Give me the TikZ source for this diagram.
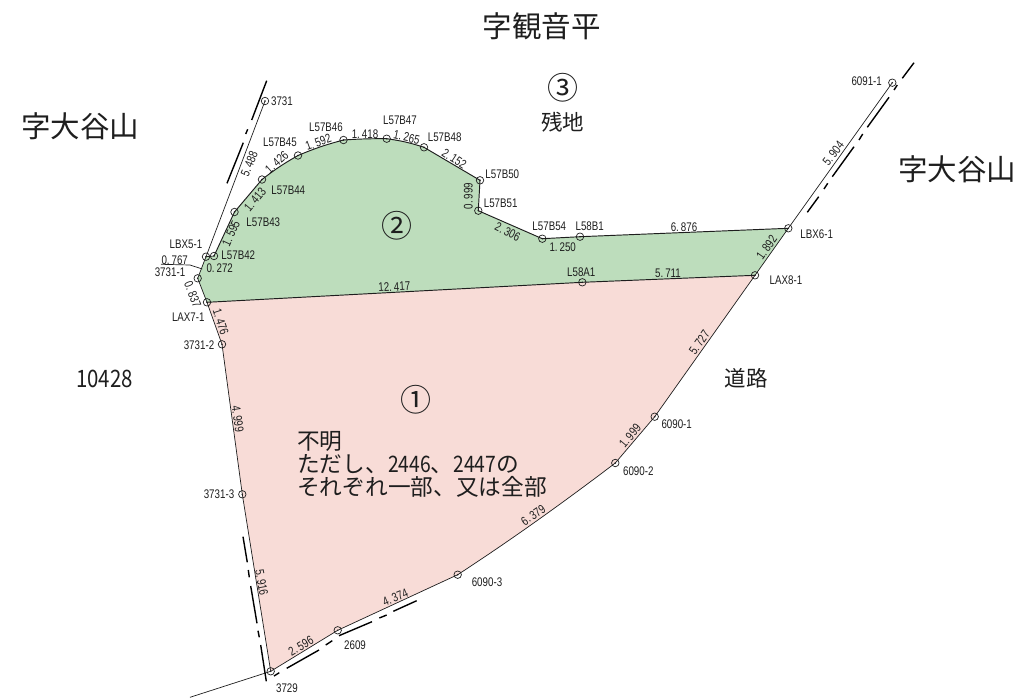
\documentclass[tikz,border=0pt]{standalone}
\usepackage{fontspec}
\setmainfont{Noto Sans CJK JP}
\newfontfamily\lblfont[FakeStretch=0.78]{Liberation Sans}
\newfontfamily\digfont[FakeStretch=0.85]{Noto Sans CJK JP}
\usetikzlibrary{backgrounds}
\definecolor{pinkfill}{HTML}{F8DCD7}
\definecolor{greenfill}{HTML}{BDDDBC}
\definecolor{inkc}{HTML}{1E1E1E}
\definecolor{lblc}{HTML}{1E1E1E}
\newcounter{lblctr}
\newcommand{\lbl}[4][0]{\stepcounter{lblctr}\node[smalllabel,rotate=#1] (lbl\thelblctr) at (#2,#3) {#4};}
\def\splitdot#1.#2\relax{#1.\kern2pt #2}
\newcommand{\dst}[4][0]{\stepcounter{lblctr}\node[smalllabel,rotate=#1] (lbl\thelblctr) at (#2,#3) {\splitdot#4\relax};}
\newcommand{\stake}[3]{\node[stake] (#1) at (#2,#3) {};}
\tikzset{
  stake/.style={circle,draw=inkc,line width=0.7pt,inner sep=0pt,minimum size=7.5pt,
    path picture={\fill[inkc] (path picture bounding box.center) circle (0.85pt);}},
  smalllabel/.style={font=\lblfont\fontsize{12.5}{13}\selectfont,text=lblc,inner sep=0pt},
  biglabel/.style={font=\fontsize{29.5}{31}\selectfont,text=inkc,inner sep=0pt},
  circlabel/.style={font=\fontsize{31}{33}\selectfont,text=inkc,inner sep=0pt},
  midlabel/.style={font=\fontsize{21.5}{24}\selectfont,text=inkc,inner sep=0pt},
  boundary/.style={draw=inkc,line width=0.7pt},
  strong/.style={draw=inkc,line width=0.95pt},
  boundmark/.style={draw=black,line width=1.4pt}
}
\begin{document}
\begin{tikzpicture}[x=1pt,y=-1pt]
\useasboundingbox (0,0) rectangle (1018,699);
% stakes
\stake{a3731}{265}{101}
\stake{b45}{298}{155.5}
\stake{b46}{343.5}{140}
\stake{b44}{262}{179.5}
\stake{b43}{234.5}{212}
\stake{lbx5}{206}{256.7}
\stake{b42}{214}{256}
\stake{a37311}{197.7}{278.3}
\stake{lax7}{207}{302.3}
\stake{a37312}{222}{344.3}
\stake{a37313}{242.3}{494.3}
\stake{a3729}{270.7}{671.3}
\stake{a2609}{337.7}{630.3}
\stake{c60903}{457.7}{574.7}
\stake{c60902}{615.3}{463}
\stake{c60901}{654.7}{416.7}
\stake{lax8}{755}{275.3}
\stake{lbx6}{788.3}{228.3}
\stake{c6091}{892.3}{82.7}
\stake{b58}{580}{236.7}
\stake{b54}{542.3}{238.7}
\stake{b51}{478.3}{210.7}
\stake{b50}{480}{180.3}
\stake{b48}{424}{147.3}
\stake{b47}{386.7}{138.7}
\stake{a58}{582.3}{282.3}
\coordinate (tailend) at (190,697.3);
\coordinate (leadA) at (161,264.3);
\coordinate (leadB) at (190,265);
\coordinate (leadC) at (202.3,269);
\coordinate (bowA) at (511,540);
\coordinate (bowB) at (564,502);
% fills
\begin{scope}[on background layer]
\fill[pinkfill] (lax7.center) -- (a58.center) -- (lax8.center) -- (c60901.center) -- (c60902.center) .. controls (bowB) and (bowA) .. (c60903.center) -- (a2609.center) -- (a3729.center) -- (a37313.center) -- (a37312.center) -- cycle;
\fill[greenfill] (a37311.center) -- (lbx5.center) -- (b42.center) -- (b43.center) -- (b44.center) to[bend left=4] (b45.center) to[bend left=4] (b46.center) to[bend left=2] (b47.center) to[bend left=5] (b48.center) -- (b50.center) -- (b51.center) -- (b54.center) -- (b58.center) -- (lbx6.center) -- (lax8.center) -- (a58.center) -- (lax7.center) -- cycle;
\end{scope}
% boundaries
\draw[boundary] (a3731.center) -- (lbx5.center) -- (a37311.center) -- (lax7.center) -- (a37312.center) -- (a37313.center) -- (a3729.center) -- (a2609.center) -- (c60903.center) .. controls (bowA) and (bowB) .. (c60902.center) -- (c60901.center) -- (lax8.center) -- (lbx6.center) -- (c6091.center);
\draw[boundary] (lbx5.center) -- (b42.center);
\draw[strong] (b42.center) -- (b43.center) -- (b44.center) to[bend left=4] (b45.center) to[bend left=4] (b46.center) to[bend left=2] (b47.center) to[bend left=5] (b48.center) -- (b50.center) -- (b51.center) -- (b54.center) -- (b58.center) -- (lbx6.center);
\draw[strong] (lax7.center) -- (a58.center) -- (lax8.center);
\draw[boundary] (tailend) -- (a3729.center);
\draw[boundary] (leadA) -- (leadB) -- (leadC);
% boundary marks
\draw[boundmark] (266.7,80.7) -- (251.7,120) (247.7,129.3) -- (245.7,134) (243.3,142.7) -- (227,183.3);
\draw[boundmark] (243,536.7) -- (247.3,562.3) (248.3,570) -- (249.3,577.3) (250.7,586) -- (257,623.3) (258,630.7) -- (259.3,637.3) (260.7,645) -- (266.3,681.3);
\draw[boundmark] (274,676) -- (279.3,672.7) (286.7,668.3) -- (319,650) (325.7,645) -- (332.3,640.7) (339,635.7) -- (372,621.7) (379.3,618) -- (386.7,615) (393.3,611.3) -- (416.7,600.7);
\draw[boundmark] (914,62.7) -- (902.3,78.3) (897.3,85) -- (894,90) (889,97.3) -- (867.3,127.3) (862.7,134) -- (859,140) (854,146.7) -- (832.3,176.7) (827.7,183.3) -- (824,189) (818.7,196.7) -- (807.3,212.3);
% big labels
\node[biglabel] (north) at (541.5,26) {字観音平};
\node[biglabel] (westA) at (80,126) {字大谷山};
\node[biglabel] (eastA) at (957,169) {字大谷山};
\node[midlabel] (remain) at (562.5,122) {残地};
\node[midlabel] (road) at (746,378) {道路};
\node[midlabel,font=\digfont\fontsize{24}{26}\selectfont] (num) at (104.5,379) {10428};
\node[circlabel] (c1) at (416,400) {①};
\node[circlabel] (c2) at (397,226) {②};
\node[circlabel] (c3) at (562.7,88) {③};
\node[midlabel,anchor=north west,align=left,font=\fontsize{22.7}{23}\selectfont] (note) at (297,431.4) {不明\\ただし、{\digfont 2446}、{\digfont 2447}の\\それぞれ一部、又は全部};
% stake labels
\lbl{282}{101}{3731}
\lbl{280}{142.7}{L57B45}
\lbl{326}{126.7}{L57B46}
\lbl{288.3}{190}{L57B44}
\lbl{263.3}{221.7}{L57B43}
\lbl{238.3}{254.7}{L57B42}
\lbl{186}{244.7}{LBX5-1}
\lbl{170}{272.3}{3731-1}
\lbl{188.3}{316.7}{LAX7-1}
\lbl{199}{344.7}{3731-2}
\lbl{219}{494.3}{3731-3}
\lbl{287}{687.7}{3729}
\lbl{355}{644.7}{2609}
\lbl{487}{582}{6090-3}
\lbl{638.3}{471}{6090-2}
\lbl{676.7}{424}{6090-1}
\lbl{786}{280}{LAX8-1}
\lbl{816.7}{234.3}{LBX6-1}
\lbl{866.7}{80.7}{6091-1}
\lbl{400}{120}{L57B47}
\lbl{444.7}{136.7}{L57B48}
\lbl{502.3}{173.7}{L57B50}
\lbl{500.7}{203.7}{L57B51}
\lbl{549.3}{226.7}{L57B54}
\lbl{589.7}{226}{L58B1}
\lbl{581.3}{272}{L58A1}
% distances
\dst[68]{249.3}{164}{5.488}
\dst[42]{276.7}{162.3}{1.426}
\dst[20]{318.3}{142.3}{1.592}
\dst[50]{255}{199.3}{1.413}
\dst[65]{231}{233.3}{1.595}
\dst{174.7}{260}{0.767}
\dst{219.7}{268.3}{0.272}
\dst[-68]{192.7}{294.3}{0.837}
\dst[-72]{220.7}{321.7}{1.476}
\dst[-82]{237.7}{419}{4.999}
\dst[-80]{261.7}{582.3}{5.916}
\dst[30]{301}{646}{2.596}
\dst[23]{395.3}{597.3}{4.374}
\dst[35]{533.3}{515}{6.379}
\dst[50]{630}{436}{1.999}
\dst[55]{699.3}{342.7}{5.727}
\dst[55]{766.7}{247.7}{1.892}
\dst[52]{833.3}{153.3}{5.904}
\dst{365}{133.7}{1.418}
\dst[-12]{406.7}{137.3}{1.265}
\dst[-33]{454.3}{158.7}{2.152}
\dst[90]{468.3}{196}{0.999}
\dst[-27]{507.7}{231.7}{2.306}
\dst{562.7}{246.7}{1.250}
\dst[3]{394.3}{286.7}{12.417}
\dst{684}{227.3}{6.876}
\dst{668}{273.3}{5.711}
\end{tikzpicture}
\end{document}
